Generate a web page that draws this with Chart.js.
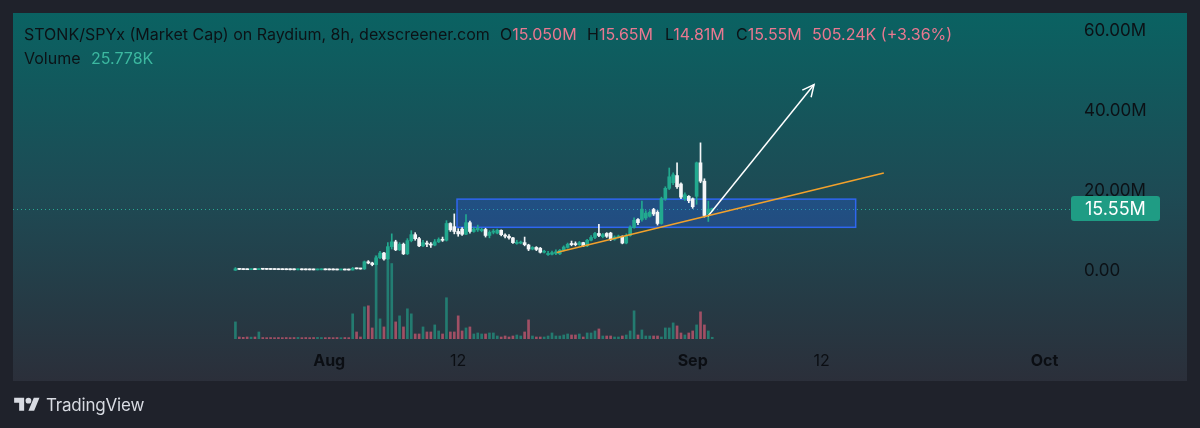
<!DOCTYPE html>
<html>
<head>
<meta charset="utf-8">
<script src="https://cdn.jsdelivr.net/npm/chart.js@4.4.1/dist/chart.umd.min.js"></script>
<style>
  html, body { margin: 0; padding: 0; background: #1f222b; }
  #wrap { position: relative; width: 1200px; height: 428px; overflow: hidden; }
  #chart { position: absolute; left: 0; top: 0; }
  .t { position: absolute; font-family: Inter, "Noto Sans", sans-serif; font-size: 16px; color: #0c1216; white-space: nowrap; line-height: 20px; }
  .pk { color: #e97890; }
  .tl { color: #3cb8a0; }
  #brand { position: absolute; left: 14px; top: 395px; display: flex; align-items: center; }
  #brand span { font-family: Inter, "Noto Sans", sans-serif; font-size: 17px; color: #d8dbe2; margin-left: 6px; letter-spacing: -0.2px; }
</style>
</head>
<body>
<div id="wrap">
  <canvas id="chart" width="1200" height="428"></canvas>
  <div class="t" style="left:24px;top:24px">STONK/SPYx (Market Cap) on Raydium, 8h, dexscreener.com</div>
  <div class="t" style="left:500px;top:24px">O<span class="pk">15.050M</span></div>
  <div class="t" style="left:587px;top:24px">H<span class="pk">15.65M</span></div>
  <div class="t" style="left:665px;top:24px">L<span class="pk">14.81M</span></div>
  <div class="t" style="left:736px;top:24px">C<span class="pk">15.55M</span></div>
  <div class="t pk" style="left:812px;top:24px">505.24K (+3.36%)</div>
  <div class="t" style="left:24px;top:48px">Volume <span class="tl" style="margin-left:6px">25.778K</span></div>
  <div id="brand">
    <svg width="26" height="20" viewBox="0 0 36 28"><path fill="#d8dbe2" d="M14 22H7V11H0V4h14v18zM28 22h-8l7.5-18h8L28 22z"/><circle fill="#d8dbe2" cx="20" cy="8" r="4"/></svg>
    <span>TradingView</span>
  </div>
</div>
<script>
// 8h candles, time in days from Aug 1 (first candle Jul 24)
const startDay = -8;
const stepDay = 1 / 3;

// market cap in millions
const opens = [
  0.10, 0.45, 0.30, 0.25, 0.22, 0.28, 0.24, 0.38, 0.33, 0.30,
  0.28, 0.26, 0.24, 0.23, 0.22, 0.21, 0.20, 0.22, 0.20, 0.19,
  0.18, 0.17, 0.20, 0.22, 0.19, 0.18, 0.17, 0.16, 0.17, 0.15,
  0.14, 0.55, 0.45, 0.40, 2.2, 1.9, 1.5, 3.2, 4.4, 2.9,
  6.0, 7.2, 5.2, 6.6, 4.2, 7.5, 9.0, 8.0, 6.2, 6.9,
  6.6, 6.4, 7.2, 7.8, 7.6, 11.8, 11.0, 9.8, 10.4, 9.1,
  12.0, 9.8, 10.2, 10.0, 10.3, 8.8, 9.6, 9.4, 10.1, 8.9,
  8.6, 8.2, 6.8, 6.9, 7.0, 6.4, 5.4, 5.8, 5.6, 4.6,
  4.0, 4.1, 4.3, 4.2, 5.1, 5.8, 6.8, 6.7, 6.5, 7.0,
  6.2, 7.6, 8.3, 9.3, 8.5, 9.3, 9.4, 7.8, 8.4, 8.6,
  6.9, 8.8, 10.8, 12.8, 12.8, 13.2, 13.6, 15.3, 14.6, 11.8,
  18.0, 20.6, 22.0, 23.8, 21.7, 18.0, 18.6, 18.0, 18.6, 27.0,
  22.4, 14.2, 15.05
];
const highs = [
  0.75, 0.50, 0.34, 0.30, 0.32, 0.30, 0.50, 0.40, 0.35, 0.32,
  0.30, 0.28, 0.27, 0.25, 0.24, 0.23, 0.24, 0.23, 0.22, 0.21,
  0.20, 0.22, 0.24, 0.23, 0.21, 0.20, 0.19, 0.18, 0.18, 0.17,
  0.80, 0.60, 0.50, 2.4, 2.5, 2.1, 3.6, 4.8, 4.6, 7.0,
  9.2, 7.6, 7.0, 6.9, 8.0, 10.0, 9.5, 8.3, 7.6, 7.4,
  7.0, 7.8, 8.2, 8.4, 12.5, 12.0, 14.2, 10.5, 10.8, 14.0,
  12.4, 10.8, 11.4, 10.6, 10.6, 10.0, 10.3, 10.4, 10.2, 9.2,
  9.0, 8.3, 7.6, 7.4, 8.4, 6.6, 6.0, 6.0, 5.8, 5.1,
  4.8, 4.9, 5.2, 5.3, 6.2, 6.9, 7.4, 7.2, 7.3, 7.1,
  7.8, 8.8, 9.6, 11.6, 9.3, 9.5, 9.6, 8.7, 8.9, 8.7,
  9.2, 11.2, 13.2, 13.0, 17.4, 15.0, 15.0, 15.6, 15.0, 18.4,
  21.0, 25.7, 24.5, 27.0, 22.0, 19.5, 18.8, 18.2, 27.2, 32.0,
  23.0, 17.4, 15.65
];
const lows = [
  0.05, 0.25, 0.22, 0.20, 0.20, 0.22, 0.22, 0.30, 0.28, 0.26,
  0.24, 0.22, 0.21, 0.20, 0.19, 0.18, 0.18, 0.18, 0.17, 0.17,
  0.16, 0.16, 0.18, 0.18, 0.17, 0.16, 0.15, 0.15, 0.14, 0.13,
  0.13, 0.40, 0.35, 0.30, 1.7, 1.2, 1.4, 3.0, 2.6, 2.7,
  5.4, 5.0, 5.0, 4.0, 4.0, 7.2, 7.6, 6.0, 6.0, 6.0,
  5.8, 6.2, 7.0, 7.3, 7.4, 9.8, 9.2, 8.6, 8.8, 9.0,
  9.4, 9.6, 9.8, 9.7, 8.4, 8.2, 9.2, 9.2, 8.7, 8.2,
  7.9, 6.8, 6.6, 6.7, 6.2, 5.0, 5.2, 5.0, 4.4, 4.4,
  3.8, 3.9, 4.0, 4.0, 4.9, 5.6, 6.2, 6.2, 6.3, 6.0,
  6.0, 7.4, 8.0, 8.5, 8.2, 8.3, 7.5, 7.6, 8.2, 6.7,
  6.7, 8.6, 10.6, 11.5, 12.4, 12.8, 13.4, 13.8, 11.4, 11.6,
  17.6, 20.3, 21.5, 20.6, 18.0, 17.6, 17.0, 15.6, 16.6, 22.0,
  13.4, 12.3, 14.81
];
const closes = [
  0.45, 0.30, 0.25, 0.22, 0.28, 0.24, 0.38, 0.33, 0.30, 0.28,
  0.26, 0.24, 0.23, 0.22, 0.21, 0.20, 0.22, 0.20, 0.19, 0.18,
  0.17, 0.20, 0.22, 0.19, 0.18, 0.17, 0.16, 0.17, 0.15, 0.14,
  0.55, 0.45, 0.40, 2.2, 1.9, 1.5, 3.2, 4.4, 2.9, 6.0,
  7.2, 5.2, 6.6, 4.2, 7.5, 9.0, 8.0, 6.2, 7.0, 6.6,
  6.4, 7.2, 7.8, 7.6, 11.8, 10.2, 9.8, 9.2, 9.1, 12.0,
  9.8, 10.4, 10.6, 10.3, 8.8, 9.6, 9.9, 10.1, 9.0, 8.6,
  8.2, 7.0, 7.1, 7.1, 6.5, 5.4, 5.8, 5.3, 4.6, 4.8,
  4.3, 4.5, 4.7, 5.1, 5.9, 6.6, 6.5, 6.5, 7.0, 6.2,
  7.6, 8.3, 9.3, 8.8, 9.0, 8.6, 7.8, 8.4, 8.6, 6.9,
  8.8, 10.8, 12.6, 12.0, 15.4, 14.4, 14.6, 14.2, 11.8, 18.0,
  20.6, 23.5, 24.0, 21.0, 18.4, 19.0, 17.5, 16.0, 27.0, 22.4,
  13.8, 15.4, 15.55
];
// volume in thousands
const volumes = [
  255, 30, 25, 30, 28, 30, 105, 22, 20, 22,
  20, 22, 20, 22, 20, 22, 24, 20, 22, 20,
  22, 24, 22, 20, 22, 20, 22, 20, 22, 20,
  375, 105, 30, 480, 495, 165, 1245, 300, 180, 1170,
  1125, 255, 345, 180, 450, 375, 75, 75, 180, 105,
  105, 210, 120, 75, 615, 105, 105, 345, 120, 165,
  180, 75, 90, 75, 75, 90, 90, 45, 30, 45,
  30, 45, 60, 45, 105, 285, 45, 30, 30, 30,
  45, 90, 45, 45, 60, 75, 60, 60, 75, 30,
  90, 90, 120, 150, 45, 45, 45, 30, 30, 45,
  60, 120, 420, 60, 135, 45, 45, 45, 45, 30,
  165, 165, 240, 195, 90, 60, 90, 120, 210, 405,
  210, 120, 25.778
];

const xTickDays = [0, 11, 31, 42, 61];
const xTickLabels = ['Aug', '12', 'Sep', '12', 'Oct'];
const yTickValues = [0, 20, 40, 60];
const yTickLabels = ['0.00', '20.00M', '40.00M', '60.00M'];

// drawings on the chart, in [day, millions]
const zoneDays = [10.9, 44.9];
const zoneCaps = [10.84, 17.9];
const trendLine = [[19.4, 4.54], [47.3, 24.45]];
const arrowLine = [[32.3, 13.6], [41.35, 46.6]];
const lastPrice = 15.55;

const upColor = '#22a98f';
const downColor = '#f4f6f8';
const times = opens.map((_, i) => startDay + i * stepDay);
const isUp = closes.map((c, i) => c >= opens[i]);

const noPad = s => { s.paddingTop = 0; s.paddingBottom = 0; s.paddingLeft = 0; s.paddingRight = 0; };

const panelPlugin = {
  id: 'panel',
  beforeDraw(chart) {
    const ctx = chart.ctx;
    ctx.save();
    ctx.fillStyle = '#1f222b';
    ctx.fillRect(0, 0, chart.width, chart.height);
    const g = ctx.createLinearGradient(0, 13, 0, 381);
    g.addColorStop(0, '#0a6262');
    g.addColorStop(0.5, '#1e4a54');
    g.addColorStop(1, '#2b2f3a');
    ctx.fillStyle = g;
    ctx.fillRect(13, 13, 1174, 368);
    ctx.restore();
  },
  beforeDatasetsDraw(chart) {
    const { ctx, chartArea, scales: { x, y } } = chart;
    ctx.save();
    // price line
    const py = Math.round(y.getPixelForValue(lastPrice)) + 0.5;
    ctx.strokeStyle = '#2aa894';
    ctx.lineWidth = 1;
    ctx.setLineDash([1, 3]);
    ctx.beginPath();
    ctx.moveTo(chartArea.left, py);
    ctx.lineTo(chartArea.right, py);
    ctx.stroke();
    ctx.setLineDash([]);
    // zone rectangle
    const x0 = x.getPixelForValue(zoneDays[0]), x1 = x.getPixelForValue(zoneDays[1]);
    const y0 = y.getPixelForValue(zoneCaps[1]), y1 = y.getPixelForValue(zoneCaps[0]);
    ctx.fillStyle = 'rgba(41, 98, 255, 0.28)';
    ctx.fillRect(x0, y0, x1 - x0, y1 - y0);
    ctx.strokeStyle = '#2f66f0';
    ctx.lineWidth = 1.5;
    ctx.strokeRect(x0, y0, x1 - x0, y1 - y0);
    ctx.restore();
  },
  afterDatasetsDraw(chart) {
    const ctx = chart.ctx;
    const pts = chart.getDatasetMeta(4).data;
    const a = pts[0], b = pts[1];
    const ang = Math.atan2(b.y - a.y, b.x - a.x);
    const len = 13;
    ctx.save();
    ctx.strokeStyle = '#ffffff';
    ctx.lineWidth = 1.5;
    ctx.beginPath();
    ctx.moveTo(b.x - len * Math.cos(ang - 0.45), b.y - len * Math.sin(ang - 0.45));
    ctx.lineTo(b.x, b.y);
    ctx.lineTo(b.x - len * Math.cos(ang + 0.45), b.y - len * Math.sin(ang + 0.45));
    ctx.stroke();
    ctx.restore();
  },
  afterDraw(chart) {
    const { ctx, chartArea, scales: { y } } = chart;
    const py = y.getPixelForValue(lastPrice);
    ctx.save();
    ctx.fillStyle = '#1f9c84';
    ctx.beginPath();
    ctx.roundRect(chartArea.right + 1, py - 12.5, 89, 25, 3);
    ctx.fill();
    ctx.fillStyle = '#ffffff';
    ctx.font = '18px Inter, "Noto Sans", sans-serif';
    ctx.textBaseline = 'middle';
    ctx.fillText(lastPrice.toFixed(2) + 'M', chartArea.right + 15, py + 1);
    ctx.restore();
  }
};

Chart.defaults.font.family = 'Inter, "Noto Sans", sans-serif';

new Chart(document.getElementById('chart'), {
  type: 'bar',
  data: {
    datasets: [
      {
        label: 'Volume',
        yAxisID: 'yv',
        data: volumes.map((v, i) => ({ x: times[i], y: v })),
        backgroundColor: isUp.map(u => u ? 'rgba(34,169,143,0.6)' : 'rgba(236,96,122,0.62)'),
        barThickness: 2,
        grouped: false,
        order: 5
      },
      {
        label: 'Wick',
        data: highs.map((h, i) => ({ x: times[i], y: [lows[i], h] })),
        backgroundColor: isUp.map(u => u ? upColor : downColor),
        barThickness: 1,
        minBarLength: 1,
        grouped: false,
        order: 3
      },
      {
        label: 'Body',
        data: opens.map((o, i) => ({ x: times[i], y: [o, closes[i]] })),
        backgroundColor: isUp.map(u => u ? upColor : downColor),
        barThickness: 3,
        minBarLength: 1,
        grouped: false,
        order: 2
      },
      {
        type: 'line',
        label: 'Trend',
        data: trendLine.map(p => ({ x: p[0], y: p[1] })),
        borderColor: '#f2a12c',
        borderWidth: 1.5,
        pointRadius: 0,
        order: 1
      },
      {
        type: 'line',
        label: 'Arrow',
        data: arrowLine.map(p => ({ x: p[0], y: p[1] })),
        borderColor: '#ffffff',
        borderWidth: 1.5,
        pointRadius: 0,
        order: 1
      }
    ]
  },
  options: {
    responsive: false,
    animation: false,
    devicePixelRatio: 1,
    layout: { padding: { left: 13, top: 13, right: 13, bottom: 47 } },
    plugins: { legend: { display: false }, tooltip: { enabled: false } },
    scales: {
      x: {
        type: 'linear',
        offset: false,
        min: -26.97,
        max: 63.18,
        grid: { display: false, drawTicks: false },
        border: { display: false },
        afterBuildTicks: s => { s.ticks = xTickDays.map(v => ({ value: v })); },
        afterFit: s => { s.height = 42; noPad(s); },
        ticks: {
          autoSkip: false,
          maxRotation: 0,
          padding: 13,
          color: '#0b0e13',
          font: ctx => ({ size: 16, weight: isNaN(Number(xTickLabels[ctx.index])) ? 'bold' : 'normal' }),
          callback: (v, i) => xTickLabels[i]
        }
      },
      y: {
        position: 'right',
        min: -17.14,
        max: 64.53,
        grid: { display: false, drawTicks: false },
        border: { display: false },
        afterBuildTicks: s => { s.ticks = yTickValues.map(v => ({ value: v })); },
        afterFit: s => { s.width = 117; noPad(s); },
        ticks: {
          padding: 14,
          color: '#0c1116',
          font: { size: 17 },
          callback: (v, i) => yTickLabels[i]
        }
      },
      yv: {
        display: false,
        min: 0,
        max: 4860
      }
    }
  },
  plugins: [panelPlugin]
});
</script>
</body>
</html>
